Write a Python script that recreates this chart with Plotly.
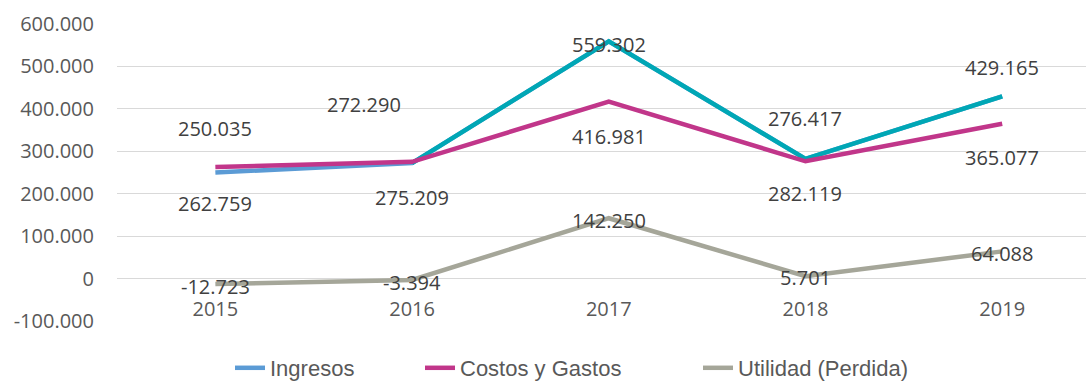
import plotly.graph_objects as go

# Chart data
years = ["2015", "2016", "2017", "2018", "2019"]
ingresos = [250035, 272290, 559302, 282119, 429165]
costos = [262759, 275209, 416981, 276417, 365077]
utilidad = [-12723, -3394, 142250, 5701, 64088]

y_ticks = [-100000, 0, 100000, 200000, 300000, 400000, 500000, 600000]

# Label placement offsets in pixels (dx, dy) relative to each point
ing_off = [(0, 44), (-48, 59), (0, -3), (0, -35), (0, 29)]
cos_off = [(0, -36), (0, -36), (0, -35), (0, 43), (0, -34)]
uti_off = [(0, -3), (0, -2), (0, -2), (0, -1), (0, -2)]


def fmt(v):
    return f"{v:,}".replace(",", ".")


BLUE = "#5B9BD5"
TEAL = "#00A7B5"
MAGENTA = "#C1368A"
GRAY = "#A5A699"
FONT = "Open Sans"

L, R, T, B = 117, 0, 24, 62
W, H = 1086, 383
plot_w = W - L - R
plot_h = H - T - B


def px_x(px):
    return (px - L) / plot_w


def px_y(py):
    return (H - B - py) / plot_h


x = list(range(len(years)))

fig = go.Figure()
fig.add_trace(go.Scatter(x=x, y=ingresos, mode="lines", name="Ingresos",
                         legend="legend", line=dict(color=BLUE, width=4.5)))
# Ingresos from 2016 onwards is drawn in teal
fig.add_trace(go.Scatter(x=x[1:], y=ingresos[1:], mode="lines", showlegend=False,
                         line=dict(color=TEAL, width=4.5), hoverinfo="skip"))
fig.add_trace(go.Scatter(x=x, y=costos, mode="lines", name="Costos y Gastos",
                         legend="legend2", line=dict(color=MAGENTA, width=4.5)))
fig.add_trace(go.Scatter(x=x, y=utilidad, mode="lines", name="Utilidad (Perdida)",
                         legend="legend3", line=dict(color=GRAY, width=4.5)))

annotations = []
for series, offs in ((ingresos, ing_off), (costos, cos_off), (utilidad, uti_off)):
    for i, v in enumerate(series):
        dx, dy = offs[i]
        annotations.append(dict(x=x[i], y=v, text=fmt(v), showarrow=False,
                                xshift=dx, yshift=dy,
                                font=dict(family=FONT, size=20, color="#404040")))

legend_font = dict(family="Liberation Sans", size=22, color="#595959")


def legend_at(px):
    return dict(orientation="h", x=px_x(px), xanchor="left", y=px_y(347),
                yanchor="top", font=legend_font, itemwidth=30,
                bgcolor="rgba(0,0,0,0)", borderwidth=0,
                tracegroupgap=0)


fig.update_layout(
    width=W, height=H,
    margin=dict(l=L, r=R, t=T, b=B, autoexpand=False),
    paper_bgcolor="white", plot_bgcolor="white",
    annotations=annotations,
    showlegend=True,
    legend=legend_at(230),
    legend2=legend_at(420),
    legend3=legend_at(698),
    xaxis=dict(range=[-0.5, 4.426], tickvals=x, ticktext=years,
               anchor="free", position=1 / 7, showgrid=False, zeroline=False,
               showline=False, ticks="", ticklabelstandoff=16,
               tickfont=dict(family=FONT, size=20, color="#595959")),
    yaxis=dict(range=[-100000, 600000], tickvals=y_ticks,
               ticktext=[fmt(v) for v in y_ticks],
               showgrid=True, gridcolor="#D9D9D9", gridwidth=1.3, zeroline=False,
               showline=False, ticks="", ticklabelstandoff=22,
               tickfont=dict(family=FONT, size=20, color="#595959")),
)

fig.write_html("out.html")
